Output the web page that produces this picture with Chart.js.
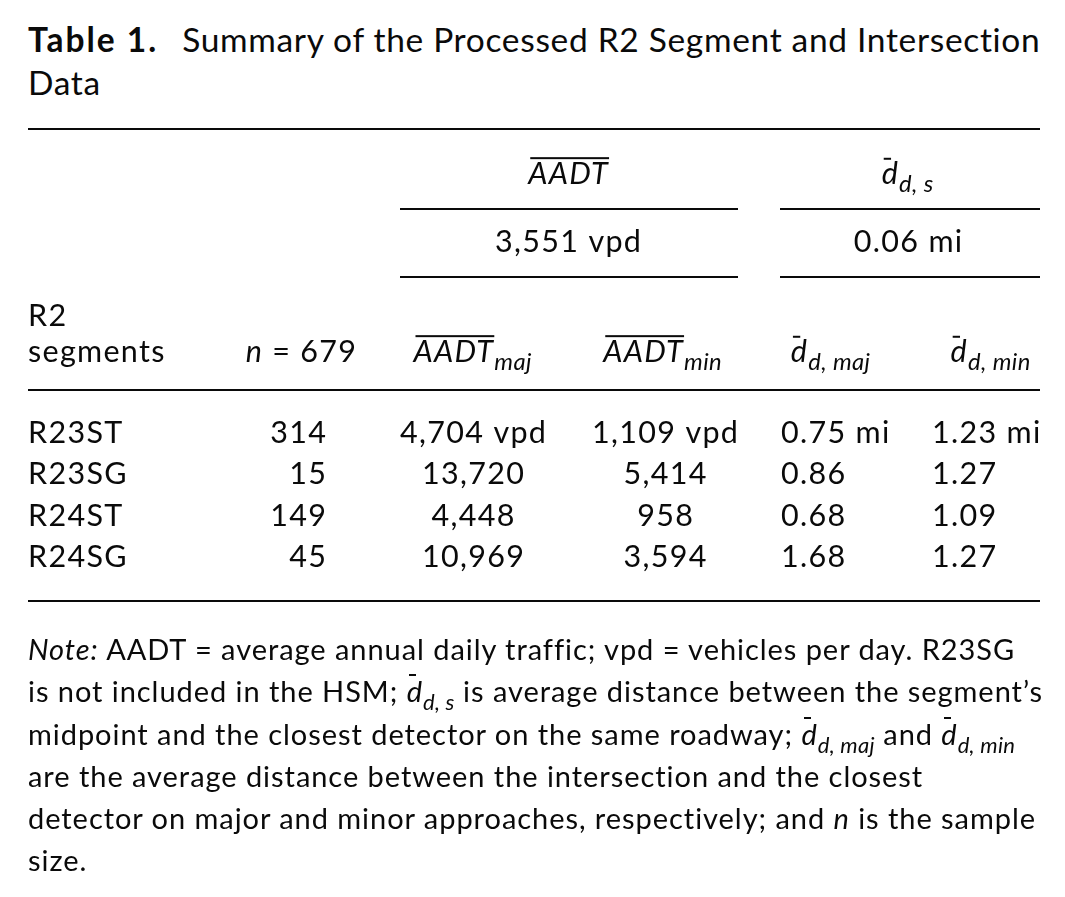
<!DOCTYPE html>
<html>
<head>
<meta charset="utf-8">
<script src="https://cdn.jsdelivr.net/npm/chart.js@4.4.1/dist/chart.umd.min.js"></script>
<style>
  body { margin: 0; background: #fff; }
  #wrap { position: relative; width: 1065px; height: 897px; font-family: Lato, sans-serif; color: #0a0a0a; }
  #tbl { position: absolute; left: 0; top: 0; }
  #title { position: absolute; left: 28px; top: 18px; font-size: 33.5px; line-height: 43px; letter-spacing: 0.68px; white-space: nowrap; }
  #title b { letter-spacing: 2px; }
  #title .gap { display: inline-block; width: 24px; }
  #note { position: absolute; left: 28px; top: 628px; font-size: 29px; line-height: 42.3px; letter-spacing: 0.95px; white-space: nowrap; }
  .db { position: relative; font-style: italic; }
  .db::before { content: ''; position: absolute; left: 0.08em; top: 0.04em; width: 0.25em; height: 2px; background: #0a0a0a; }
  sub { font-size: 0.76em; font-style: italic; vertical-align: -0.35em; line-height: 0; letter-spacing: 0.3px; }
</style>
</head>
<body>
<div id="wrap">
  <div id="title"><b>Table 1.</b><span class="gap"></span>Summary of the Processed R2 Segment and Intersection<br>Data</div>
  <canvas id="tbl" width="1065" height="897"></canvas>
  <div id="note"><i>Note:</i> AADT = average annual daily traffic; vpd = vehicles per day. R23SG<br>is not included in the HSM; <span class="db">d</span><sub>d, s</sub> is average distance between the segment’s<br>midpoint and the closest detector on the same roadway; <span class="db">d</span><sub>d, maj</sub> and <span class="db">d</span><sub>d, min</sub><br>are the average distance between the intersection and the closest<br>detector on major and minor approaches, respectively; and <i>n</i> is the sample<br>size.</div>
</div>
<script>
// table data
const segments = ['R23ST', 'R23SG', 'R24ST', 'R24SG'];
const sampleSize = [314, 15, 149, 45];
const aadtMaj = [4704, 13720, 4448, 10969];
const aadtMin = [1109, 5414, 958, 3594];
const distMaj = [0.75, 0.86, 0.68, 1.68];
const distMin = [1.23, 1.27, 1.09, 1.27];
const totalN = 679;
const aadtAll = 3551;      // vpd
const distSeg = 0.06;      // mi

// column anchors (layout only)
const colX = [28, 326, 473, 665, 781, 932];
const colAlign = ['left', 'right', 'center', 'center', 'left', 'left'];
const INK = '#0a0a0a';
const FONT = 'Lato, sans-serif';
const S = 30.5;       // cell font size
const SPACING = 1.3;  // letter spacing, Lato is narrower than the original face
const SUB = 0.78;     // subscript scale

const fmtInt = v => v.toLocaleString('en-US');
const fmtDec = v => v.toFixed(2);

const columns = [
    { key: 'seg', vals: segments, fmt: v => v, unit: '' },
    { key: 'n', vals: sampleSize, fmt: v => String(v), unit: '' },
    { key: 'maj', vals: aadtMaj, fmt: fmtInt, unit: ' vpd' },
    { key: 'min', vals: aadtMin, fmt: fmtInt, unit: ' vpd' },
    { key: 'dmaj', vals: distMaj, fmt: fmtDec, unit: ' mi' },
    { key: 'dmin', vals: distMin, fmt: fmtDec, unit: ' mi' },
];

// draw a run of styled pieces: {t, it, sub, bar}
const drawRich = (ctx, parts, x, y, align, size) => {
    const fontOf = p => `${p.it ? 'italic ' : ''}${p.sub ? size * SUB : size}px ${FONT}`;
    const widths = parts.map(p => {
        ctx.font = fontOf(p);
        ctx.letterSpacing = (p.sub ? 0.4 : SPACING) + 'px';
        return ctx.measureText(p.t).width;
    });
    const total = widths.reduce((a, b) => a + b, 0) - SPACING;
    let cx = align === 'center' ? x - total / 2 : align === 'right' ? x - total : x;
    ctx.textAlign = 'left';
    ctx.textBaseline = 'alphabetic';
    parts.forEach((p, i) => {
        ctx.font = fontOf(p);
        ctx.letterSpacing = (p.sub ? 0.4 : SPACING) + 'px';
        const yy = p.sub ? y + size * 0.25 : y;
        ctx.fillText(p.t, cx, yy);
        if (p.bar === 'over') {
            ctx.fillRect(cx + 2, y - size * 0.88, widths[i] - 2, 2);
        } else if (p.bar === 'd') {
            ctx.fillRect(cx + widths[i] * 0.12, y - size * 0.86, widths[i] * 0.42, 2);
        }
        cx += widths[i];
    });
};

const tablePlugin = {
    id: 'tablePlugin',
    afterDraw(chart) {
        const { ctx, scales: { x, y } } = chart;
        const px = v => x.getPixelForValue(v);
        const left = px(28), right = px(1040);
        ctx.save();
        ctx.fillStyle = INK;
        const rule = (x0, x1, yy) => ctx.fillRect(x0, yy - 1, x1 - x0, 2);

        // rules
        rule(left, right, 129);
        rule(px(400), px(738), 209);
        rule(px(780), right, 209);
        rule(px(400), px(738), 277);
        rule(px(780), right, 277);
        rule(left, right, 390);
        rule(left, right, 601);

        // group headers
        drawRich(ctx, [{ t: 'AADT', it: true, bar: 'over' }], px(568), 184, 'center', S);
        drawRich(ctx, [{ t: 'd', it: true, bar: 'd' }, { t: 'd, s', it: true, sub: true }], px(907), 184, 'center', S);
        drawRich(ctx, [{ t: fmtInt(aadtAll) + ' vpd' }], px(568), 252, 'center', S);
        drawRich(ctx, [{ t: fmtDec(distSeg) + ' mi' }], px(908), 252, 'center', S);

        // column headers
        drawRich(ctx, [{ t: 'R2' }], px(28), 326, 'left', S);
        drawRich(ctx, [{ t: 'segments' }], px(28), 362, 'left', S);
        drawRich(ctx, [{ t: 'n', it: true }, { t: ' = ' + totalN }], px(356), 362, 'right', S);
        drawRich(ctx, [{ t: 'AADT', it: true, bar: 'over' }, { t: 'maj', it: true, sub: true }], px(472), 362, 'center', S);
        drawRich(ctx, [{ t: 'AADT', it: true, bar: 'over' }, { t: 'min', it: true, sub: true }], px(662), 362, 'center', S);
        drawRich(ctx, [{ t: 'd', it: true, bar: 'd' }, { t: 'd, maj', it: true, sub: true }], px(830), 362, 'center', S);
        drawRich(ctx, [{ t: 'd', it: true, bar: 'd' }, { t: 'd, min', it: true, sub: true }], px(990), 362, 'center', S);

        // body cells, placed on the category rows
        chart.data.datasets.forEach((ds, c) => {
            ds.data.forEach((pt, r) => {
                const col = columns[c];
                const txt = col.fmt(col.vals[r]) + (r === 0 ? col.unit : '');
                drawRich(ctx, [{ t: txt }], px(pt.x), y.getPixelForValue(pt.y) + 10, colAlign[c], S);
            });
        });
        ctx.restore();
    }
};

new Chart(document.getElementById('tbl'), {
    type: 'scatter',
    data: {
        datasets: columns.map((col, c) => ({
            label: col.key,
            data: segments.map(s => ({ x: colX[c], y: s })),
            pointRadius: 0,
        })),
    },
    options: {
        responsive: false,
        animation: false,
        events: [],
        layout: { padding: { top: 412, bottom: 319, left: 0, right: 0 } },
        plugins: { legend: { display: false }, tooltip: { enabled: false } },
        scales: {
            x: { type: 'linear', min: 0, max: 1065, display: false },
            y: { type: 'category', labels: segments, offset: true, display: false },
        },
    },
    plugins: [tablePlugin],
});
</script>
</body>
</html>
